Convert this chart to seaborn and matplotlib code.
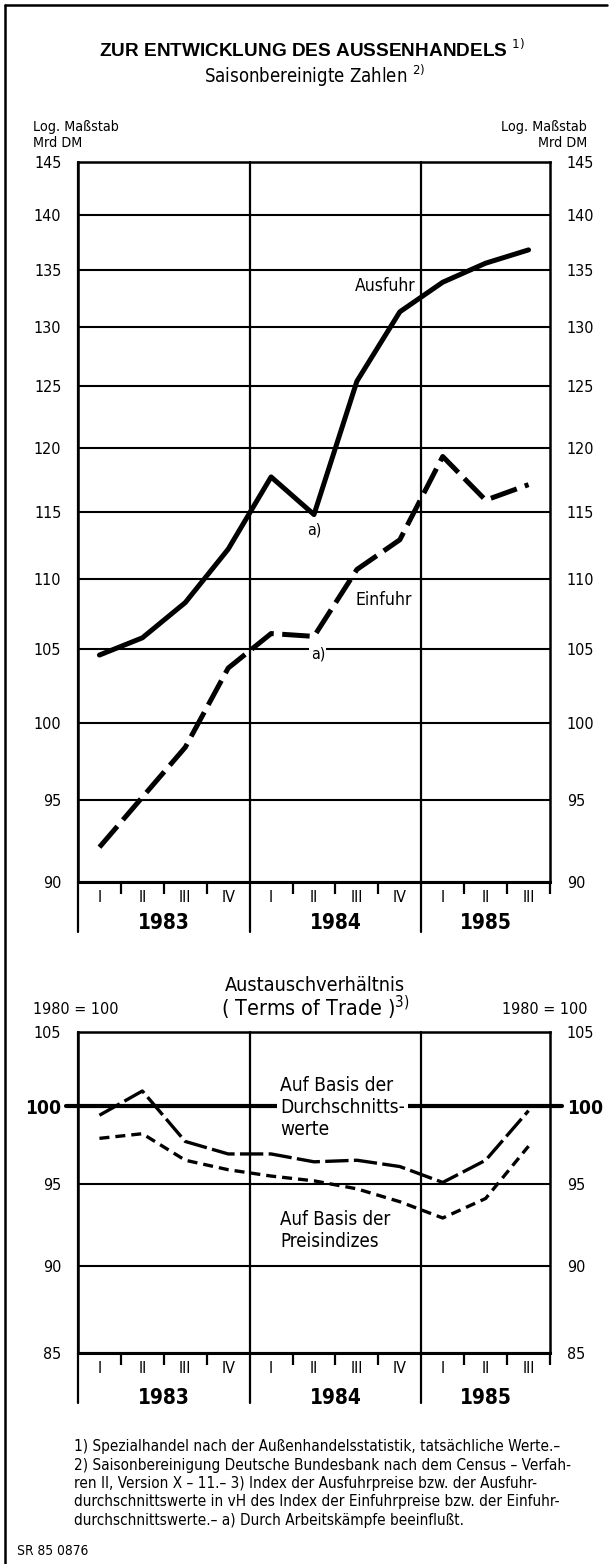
import matplotlib
matplotlib.use("Agg")
import matplotlib.pyplot as plt
import seaborn as sns
from matplotlib import font_manager
from matplotlib.lines import Line2D
from matplotlib.ticker import FixedLocator, NullLocator

# --- data ---
quarters = ["I", "II", "III", "IV", "I", "II", "III", "IV", "I", "II", "III"]
years = ["1983", "1984", "1985"]
quarters_per_year = [4, 4, 3]

ausfuhr = [104.6, 105.8, 108.3, 112.2, 117.7, 114.8, 125.4, 131.3, 133.9, 135.6, 136.8]
einfuhr = [92.1, 95.2, 98.4, 103.7, 106.1, 105.9, 110.7, 112.9, 119.3, 115.9, 117.1]

tot_durchschnitt = [99.4, 101.0, 97.7, 96.9, 96.9, 96.4, 96.5, 96.1, 95.1, 96.5, 99.7]
tot_preise = [97.9, 98.2, 96.5, 95.9, 95.5, 95.2, 94.7, 93.9, 92.9, 94.1, 97.4]

top_ticks = [90, 95, 100, 105, 110, 115, 120, 125, 130, 135, 140, 145]
bottom_ticks = [85, 90, 95, 100, 105]

footnotes = [
    "1) Spezialhandel nach der Außenhandelsstatistik, tatsächliche Werte.–",
    "2) Saisonbereinigung Deutsche Bundesbank nach dem Census – Verfah-",
    "ren II, Version X – 11.– 3) Index der Ausfuhrpreise bzw. der Ausfuhr-",
    "durchschnittswerte in vH des Index der Einfuhrpreise bzw. der Einfuhr-",
    "durchschnittswerte.– a) Durch Arbeitskämpfe beeinflußt.",
]

sns.set_style("white")

# pick a narrow face if one is installed (the original uses a condensed grotesque)
ttf = font_manager.fontManager.ttflist
names = {f.name for f in ttf}
NARROW, STRETCH = "DejaVu Sans", "normal"
if "Liberation Sans Narrow" in names:
    NARROW = "Liberation Sans Narrow"
else:
    for fam in ["Noto Sans", "DejaVu Sans", "Roboto", "Open Sans", "Lato", "Inter"]:
        st = {f.stretch for f in ttf if f.name == fam}
        hit = [s for s in ["condensed", "semi-condensed"] if s in st]
        if hit:
            NARROW, STRETCH = fam, hit[0]
            break
WIDE = "Liberation Sans" if "Liberation Sans" in names else "DejaVu Sans"

plt.rcParams["font.family"] = [NARROW, "DejaVu Sans"]
plt.rcParams["font.stretch"] = STRETCH
plt.rcParams["mathtext.fontset"] = "custom"
plt.rcParams["mathtext.rm"] = NARROW
plt.rcParams["mathtext.it"] = NARROW
plt.rcParams["mathtext.bf"] = NARROW + ":bold"
plt.rcParams["text.color"] = "black"
plt.rcParams["xtick.color"] = "black"
plt.rcParams["ytick.color"] = "black"
plt.rcParams["xtick.labelcolor"] = "black"
plt.rcParams["ytick.labelcolor"] = "black"

W, H = 612, 1564
fig = plt.figure(figsize=(W / 100, H / 100), dpi=100)
renderer = fig.canvas.get_renderer()


def fx(px):
    return px / W


def fy(py):
    return 1 - py / H


def fit(t, width_px):
    # scale the font so the text spans the width measured on the original
    w = t.get_window_extent(renderer=renderer).width
    t.set_fontsize(t.get_fontsize() * width_px / w)
    return t


# size for the numeric labels: close to the original width, but not too small
probe = fig.text(0, 0, "145", fontsize=12.5)
num_size = min(12.5, max(11.5, 12.5 * 24 / probe.get_window_extent(renderer=renderer).width))
probe.remove()

x = list(range(len(quarters)))
bounds = [-0.5]
for n in quarters_per_year:
    bounds.append(bounds[-1] + n)
year_centers = [(bounds[i] + bounds[i + 1]) / 2 for i in range(len(years))]
minor_b = [b + 0.5 for b in x if b + 0.5 not in bounds[1:-1]]


def setup_axis(ax, ticks, lo, hi, drop, year_y):
    ax.set_yscale("log")
    ax.set_xlim(-0.5, len(quarters) - 0.5)
    ax.set_ylim(lo, hi)
    ax.yaxis.set_major_locator(FixedLocator(ticks))
    ax.yaxis.set_minor_locator(NullLocator())
    ax.set_yticklabels([str(t) for t in ticks])
    ax.tick_params(axis="y", length=0, labelsize=num_size, pad=12,
                   labelleft=True, labelright=True, left=False, right=False)
    ax.set_xticks(x)
    ax.set_xticklabels(quarters)
    ax.set_xticks(minor_b, minor=True)
    ax.tick_params(axis="x", which="major", length=0, pad=6, labelsize=num_size)
    ax.tick_params(axis="x", which="minor", length=8.5, width=1.6,
                   direction="out", bottom=True, color="black")
    ax.grid(axis="y", color="black", lw=1.5)
    ax.grid(axis="x", visible=False)
    for s in ax.spines.values():
        s.set_color("black")
        s.set_linewidth(1.8)
    ax.spines["bottom"].set_linewidth(2.2)
    for b in bounds[:-1]:
        ax.axvline(b, ymin=-drop, ymax=1, color="black", lw=1.6, clip_on=False)
    for yc, yr in zip(year_centers, years):
        ax.text(yc, year_y, yr, transform=ax.get_xaxis_transform(),
                ha="center", va="center", fontsize=num_size * 1.3, fontweight="bold")
    ax.set_xlabel("")
    ax.set_ylabel("")


# --- top panel: Ausfuhr / Einfuhr ---
ax1 = fig.add_axes([fx(78), fy(882), 472 / W, 720 / H])
sns.lineplot(x=x, y=ausfuhr, ax=ax1, color="black", lw=3.6, zorder=5)
sns.lineplot(x=x, y=einfuhr, ax=ax1, color="black", lw=3.6, zorder=5,
             linestyle=(0, (5.5, 1.7)))
setup_axis(ax1, top_ticks, 90, 145, 50 / 720, -41 / 720)

fit(ax1.text(5.96, 133.6, "Ausfuhr", fontsize=14, ha="left", va="center"), 61)
fit(ax1.text(5.96, 108.5, "Einfuhr", fontsize=14, ha="left", va="center"), 57)
ax1.text(5.0, 113.6, "a)", fontsize=num_size, ha="center", va="center")
ax1.text(5.09, 104.7, "a)", fontsize=num_size, ha="center", va="center",
         bbox=dict(facecolor="white", edgecolor="none", pad=1), zorder=6)

# --- bottom panel: Terms of Trade ---
ax2 = fig.add_axes([fx(78), fy(1353), 472 / W, 321 / H])
sns.lineplot(x=x, y=tot_durchschnitt, ax=ax2, color="black", lw=2.4, zorder=5,
             linestyle=(0, (7, 1.6)))
sns.lineplot(x=x, y=tot_preise, ax=ax2, color="black", lw=2.4, zorder=5,
             linestyle=(0, (3, 1.8)))
setup_axis(ax2, bottom_ticks, 85, 105, 50 / 321, -45 / 321)
ax2.axhline(100, xmin=-12 / 472, xmax=1 + 12 / 472, color="black", lw=3,
            clip_on=False, zorder=4)
for tk in ax2.yaxis.get_major_ticks():
    if tk.get_loc() == 100:
        for lab in (tk.label1, tk.label2):
            lab.set_fontsize(num_size * 1.2)
            lab.set_fontweight("bold")

fit(ax2.text(4.21, 102.0, "Auf Basis der\nDurchschnitts-\nwerte", fontsize=14.5,
             ha="left", va="top", linespacing=1.2, zorder=6,
             bbox=dict(facecolor="white", edgecolor="none", pad=2)), 124)
fit(ax2.text(4.21, 93.4, "Auf Basis der\nPreisindizes", fontsize=14.5,
             ha="left", va="top", linespacing=1.2, zorder=6), 110)

# --- headings ---
fit(fig.text(fx(312), fy(50), r"ZUR ENTWICKLUNG DES AUSSENHANDELS $^{\mathrm{1)}}$",
             family=[WIDE, "DejaVu Sans"], fontweight="bold", fontsize=13,
             ha="center", va="center"), 425)
fit(fig.text(fx(315), fy(76), r"Saisonbereinigte Zahlen $^{\mathrm{2)}}$",
             fontsize=14.5, ha="center", va="center"), 221)
for xx, ha in [(33, "left"), (587, "right")]:
    hd = fit(fig.text(fx(xx), fy(127), "Log. Maßstab", fontsize=12, ha=ha, va="center"), 86)
    fig.text(fx(xx), fy(143), "Mrd DM", fontsize=hd.get_fontsize(), ha=ha, va="center")
    fig.text(fx(xx), fy(1010), "1980 = 100", fontsize=num_size, ha=ha, va="center")

fit(fig.text(fx(315), fy(985), "Austauschverhältnis", fontsize=15,
             ha="center", va="center"), 181)
fit(fig.text(fx(315), fy(1008), r"( Terms of Trade )$^{\mathrm{3)}}$", fontsize=15,
             ha="center", va="center"), 189)

fn = [fig.text(fx(74), fy(1447 + i * 18.3), line, fontsize=11.5, ha="left", va="center")
      for i, line in enumerate(footnotes)]
fit(fn[1], 498)
for t in fn:
    t.set_fontsize(fn[1].get_fontsize())
fit(fig.text(fx(17), fy(1551), "SR 85 0876", fontsize=12, ha="left", va="center"), 71)

# frame of the page
fig.add_artist(Line2D([fx(5), fx(5)], [fy(5), 0], transform=fig.transFigure,
                      color="black", lw=1.8))
fig.add_artist(Line2D([fx(5), fx(607)], [fy(5), fy(5)], transform=fig.transFigure,
                      color="black", lw=1.8))

fig.savefig("out.png", dpi=100, facecolor="white")
